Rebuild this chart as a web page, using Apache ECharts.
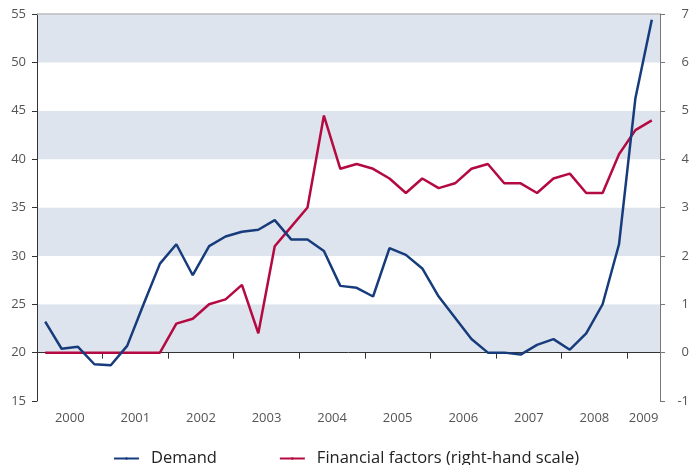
<!DOCTYPE html>
<html>
<head>
<meta charset="utf-8">
<script src="https://cdn.jsdelivr.net/npm/echarts@6/dist/echarts.min.js"></script>
<style>
  html, body { margin: 0; padding: 0; background: #fff; }
  #chart { width: 692px; height: 465px; }
</style>
</head>
<body>
<div id="chart"></div>
<script>
// quarterly, 2000Q1 .. 2009Q2
const years = ['2000', '2001', '2002', '2003', '2004', '2005', '2006', '2007', '2008', '2009'];

const demand = [
  23.2, 20.4, 20.6, 18.8, 18.7, 20.7, 25.0, 29.2, 31.2, 28.0,
  31.0, 32.0, 32.5, 32.7, 33.7, 31.7, 31.7, 30.5, 26.9, 26.7,
  25.8, 30.8, 30.1, 28.7, 25.8, 23.6, 21.4, 20.0, 20.0, 19.8,
  20.8, 21.4, 20.3, 22.0, 25.0, 31.2, 46.3, 54.4
];

// right-hand scale
const financial = [
  0, 0, 0, 0, 0, 0, 0, 0, 0.6, 0.7,
  1.0, 1.1, 1.4, 0.4, 2.2, 2.6, 3.0, 4.9, 3.8, 3.9,
  3.8, 3.6, 3.3, 3.6, 3.4, 3.5, 3.8, 3.9, 3.5, 3.5,
  3.3, 3.6, 3.7, 3.3, 3.3, 4.1, 4.6, 4.8
];

const yearTicks = [0, 4, 8, 12, 16, 20, 24, 28, 32, 36];
const yearLabelPos = [2, 6, 10, 14, 18, 22, 26, 30, 34, 37];

const textFont = 'Open Sans';

// points sit in the middle of each quarter
const toPoints = arr => arr.map((v, i) => [i + 0.5, v]);

const chart = echarts.init(document.getElementById('chart'));

chart.setOption({
  animation: false,
  grid: { left: 37, right: 31, top: 14, bottom: 64 },
  xAxis: {
    type: 'value',
    min: 0,
    max: demand.length,
    axisLine: { show: true, lineStyle: { color: '#333', width: 1 } },
    axisTick: {
      show: true,
      customValues: yearTicks,
      length: 6,
      lineStyle: { color: '#333' }
    },
    axisLabel: {
      customValues: yearLabelPos,
      formatter: v => years[yearLabelPos.indexOf(v)] || '',
      color: '#555',
      fontFamily: textFont,
      fontSize: 13,
      margin: 11
    },
    splitLine: { show: false }
  },
  yAxis: [
    {
      type: 'value',
      min: 15,
      max: 55,
      interval: 5,
      position: 'left',
      axisLine: { show: true, lineStyle: { color: '#333' } },
      axisTick: { show: true, length: 5, lineStyle: { color: '#333' } },
      axisLabel: { color: '#555', fontFamily: textFont, fontSize: 13, margin: 11 },
      splitLine: { show: false },
      splitArea: { show: true, areaStyle: { color: ['#ffffff', '#dee4ee'] } }
    },
    {
      type: 'value',
      min: -1,
      max: 7,
      interval: 1,
      position: 'right',
      axisLine: { show: true, lineStyle: { color: '#777' } },
      axisTick: { show: true, length: 5, lineStyle: { color: '#777' } },
      axisLabel: {
        color: '#555', fontFamily: textFont, fontSize: 13,
        align: 'right', margin: 29
      },
      splitLine: { show: false }
    }
  ],
  legend: {
    left: 'center',
    top: 445,
    itemWidth: 25,
    itemHeight: 3,
    itemGap: 62,
    textStyle: {
      color: '#222', fontFamily: textFont, fontSize: 16.5,
      padding: [0, 0, 0, 7]
    },
    data: ['Demand', 'Financial factors (right-hand scale)']
  },
  series: [
    {
      name: 'Top border',
      type: 'line',
      data: [],
      markLine: {
        silent: true,
        symbol: 'none',
        label: { show: false },
        lineStyle: { color: '#bbb', width: 1.5, type: 'solid' },
        data: [{ yAxis: 55 }]
      }
    },
    {
      name: 'Demand',
      type: 'line',
      yAxisIndex: 0,
      data: toPoints(demand),
      symbol: 'none',
      lineStyle: { color: '#173c7c', width: 2.5 },
      itemStyle: { color: '#173c7c' },
      z: 3
    },
    {
      name: 'Financial factors (right-hand scale)',
      type: 'line',
      yAxisIndex: 1,
      data: toPoints(financial),
      symbol: 'none',
      lineStyle: { color: '#b40a41', width: 2.5 },
      itemStyle: { color: '#b40a41' },
      z: 2
    }
  ]
});
</script>
</body>
</html>
